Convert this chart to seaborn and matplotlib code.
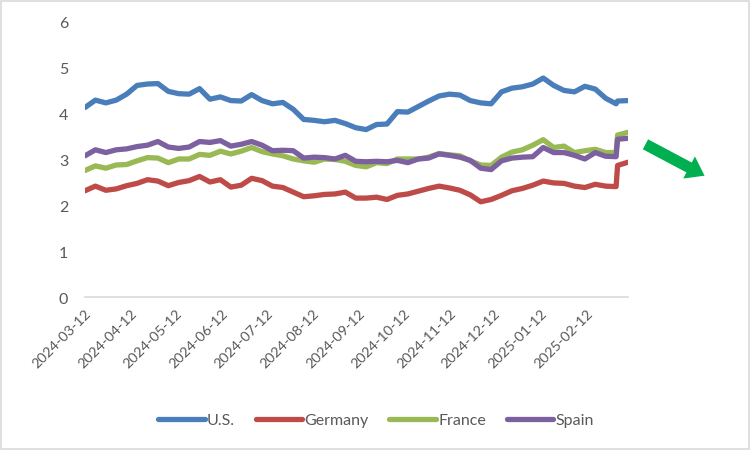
import numpy as np
import pandas as pd
import matplotlib
matplotlib.use("Agg")
import matplotlib.pyplot as plt
from matplotlib.patches import FancyArrowPatch, Rectangle
import seaborn as sns

# weekly readings (Tuesdays) plus the 5 Mar 2025 jump and the last day
dates = list(pd.date_range("2024-03-12", "2025-03-04", freq="7D")) + [
    pd.Timestamp("2025-03-05"), pd.Timestamp("2025-03-12")]

us = [4.12, 4.28, 4.22, 4.28, 4.41, 4.60, 4.63, 4.64, 4.47, 4.42, 4.41, 4.53, 4.30, 4.35,
      4.27, 4.26, 4.40, 4.27, 4.20, 4.23, 4.08, 3.86, 3.84, 3.81, 3.84, 3.77, 3.68, 3.64,
      3.75, 3.76, 4.03, 4.02, 4.14, 4.26, 4.37, 4.41, 4.39, 4.27, 4.22, 4.20, 4.46, 4.54,
      4.57, 4.63, 4.76, 4.60, 4.49, 4.46, 4.58, 4.52, 4.32, 4.20, 4.26, 4.27]
germany = [2.31, 2.41, 2.32, 2.35, 2.42, 2.47, 2.55, 2.52, 2.42, 2.49, 2.53, 2.62, 2.50, 2.55,
           2.39, 2.43, 2.58, 2.53, 2.41, 2.38, 2.28, 2.18, 2.20, 2.23, 2.24, 2.28, 2.15, 2.15,
           2.17, 2.12, 2.21, 2.24, 2.30, 2.36, 2.41, 2.37, 2.32, 2.22, 2.07, 2.12, 2.21, 2.31,
           2.36, 2.43, 2.52, 2.48, 2.47, 2.41, 2.38, 2.45, 2.41, 2.40, 2.86, 2.93]
france = [2.75, 2.85, 2.80, 2.87, 2.88, 2.96, 3.03, 3.02, 2.92, 3.00, 3.00, 3.10, 3.08, 3.17,
          3.11, 3.17, 3.25, 3.16, 3.11, 3.07, 3.00, 2.96, 2.93, 3.00, 2.99, 2.95, 2.86, 2.83,
          2.92, 2.90, 3.00, 3.00, 3.00, 3.04, 3.12, 3.09, 3.07, 2.96, 2.87, 2.86, 3.04, 3.15,
          3.20, 3.30, 3.42, 3.25, 3.28, 3.14, 3.18, 3.21, 3.14, 3.14, 3.52, 3.58]
spain = [3.07, 3.20, 3.14, 3.20, 3.22, 3.27, 3.30, 3.38, 3.26, 3.23, 3.26, 3.38, 3.36, 3.40,
         3.28, 3.32, 3.38, 3.30, 3.18, 3.19, 3.18, 3.02, 3.04, 3.03, 3.00, 3.08, 2.95, 2.94,
         2.95, 2.94, 2.97, 2.92, 3.00, 3.02, 3.11, 3.08, 3.04, 2.97, 2.80, 2.77, 2.96, 3.02,
         3.04, 3.05, 3.25, 3.14, 3.14, 3.08, 3.00, 3.14, 3.06, 3.05, 3.43, 3.45]

countries = ["U.S.", "Germany", "France", "Spain"]
colors = ["#4A7EBB", "#BE4B48", "#98B954", "#7D60A0"]

tick_dates = pd.date_range("2024-03-12", "2025-03-12", freq=pd.DateOffset(months=1))
tick_labels = [d.strftime("%Y-%m-%d") for d in tick_dates[:-1]] + [""]

df = pd.DataFrame({"date": dates, "U.S.": us, "Germany": germany,
                   "France": france, "Spain": spain})
long = df.melt("date", var_name="country", value_name="yield")

sns.set_style("white")
plt.rcParams['font.family'] = ['Lato', 'DejaVu Sans']
grey_txt = "#595959"
grey_ax = "#D9D9D9"

fig = plt.figure(figsize=(7.52, 4.52), dpi=100)
ax = fig.add_axes([85 / 752, 1 - 298 / 452, (628 - 85) / 752, (298 - 22) / 452])

sns.lineplot(data=long, x="date", y="yield", hue="country", hue_order=countries,
             palette=colors, lw=3.8, ax=ax)
for ln in ax.get_lines():
    ln.set_solid_capstyle("round")
    ln.set_solid_joinstyle("round")

ax.set_xlim(tick_dates[0], tick_dates[-1])
ax.set_ylim(0, 6)
ax.set_yticks(range(0, 7))
ax.set_xticks(tick_dates)
ax.set_xticklabels(tick_labels, rotation=45, ha="right", va="top",
                   rotation_mode="anchor", fontsize=10.4, color=grey_txt)
ax.tick_params(axis="x", length=4, width=1.2, color=grey_ax, direction="out", pad=3)
ax.tick_params(axis="y", length=0, pad=12, labelsize=11.5, labelcolor=grey_txt)
ax.set_xlabel("")
ax.set_ylabel("")
for s in ["top", "right", "left"]:
    ax.spines[s].set_visible(False)
ax.spines["bottom"].set_color(grey_ax)
ax.spines["bottom"].set_linewidth(1.2)

handles, labels = ax.get_legend_handles_labels()
ax.get_legend().remove()
leg = fig.legend(handles, labels, loc="center", bbox_to_anchor=(0.5, 1 - 421 / 452),
                 ncol=4, frameon=False, fontsize=11.5, handlelength=2.9,
                 handletextpad=0.15, columnspacing=1.3)
for t in leg.get_texts():
    t.set_color(grey_txt)
for h in leg.get_lines():
    h.set_linewidth(3.8)
    h.set_solid_capstyle("round")

arrow = FancyArrowPatch((643 / 752, 1 - 144 / 452), (707 / 752, 1 - 178 / 452),
                        transform=fig.transFigure,
                        arrowstyle="simple,head_length=0.42,head_width=0.6,tail_width=0.27",
                        mutation_scale=30, color="#00B050", lw=0)
fig.add_artist(arrow)

fig.add_artist(Rectangle((1.5 / 752, 1 - 450 / 452), 747 / 752, 448.5 / 452,
                         transform=fig.transFigure, fill=False,
                         edgecolor=grey_ax, lw=1.2))

fig.savefig("out.png", dpi=100)
